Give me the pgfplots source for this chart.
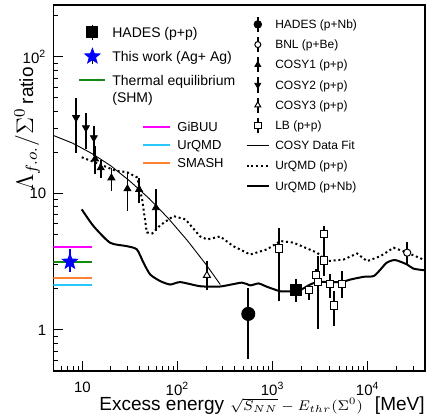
\documentclass[border=0pt]{standalone}
\usepackage{fontspec}
\setmainfont{Liberation Sans}
\usepackage{pgfplots}
\pgfplotsset{compat=1.18}
\usetikzlibrary{plotmarks}

\definecolor{gibuu}{RGB}{255,0,255}
\definecolor{urqmdc}{RGB}{40,200,255}
\definecolor{smash}{RGB}{255,130,50}
\definecolor{shm}{RGB}{20,140,20}

% filled five-pointed star
\pgfdeclareplotmark{fstar}{%
  \pgfpathmoveto{\pgfpointpolar{90}{\pgfplotmarksize}}%
  \pgfpathlineto{\pgfpointpolar{126}{0.42\pgfplotmarksize}}%
  \pgfpathlineto{\pgfpointpolar{162}{\pgfplotmarksize}}%
  \pgfpathlineto{\pgfpointpolar{198}{0.42\pgfplotmarksize}}%
  \pgfpathlineto{\pgfpointpolar{234}{\pgfplotmarksize}}%
  \pgfpathlineto{\pgfpointpolar{270}{0.42\pgfplotmarksize}}%
  \pgfpathlineto{\pgfpointpolar{306}{\pgfplotmarksize}}%
  \pgfpathlineto{\pgfpointpolar{342}{0.42\pgfplotmarksize}}%
  \pgfpathlineto{\pgfpointpolar{18}{\pgfplotmarksize}}%
  \pgfpathlineto{\pgfpointpolar{54}{0.42\pgfplotmarksize}}%
  \pgfpathclose\pgfusepathqfillstroke}

\pgfplotsset{
  errleg/.style={legend image code/.code={
      \draw[black, line width=0.8pt] (#1,-3.8pt) -- (#1,3.8pt);
      \draw[##1, only marks] plot coordinates {(#1,0pt)};}},
  lineleg/.style={legend image code/.code={\draw[##1] (0pt,0pt) -- (#1,0pt);}},
}

\begin{document}
\begin{tikzpicture}
\begin{loglogaxis}[name=main,
  scale only axis, width=185.85pt, height=183pt,
  xmin=4.95, xmax=40000, ymin=0.5, ymax=240,
  axis line style={line width=0.8pt},
  tick align=inside, tick pos=left,
  major tick length=5pt, minor tick length=2.5pt,
  tick style={black, line width=0.5pt},
  xtick={10,100,1000,10000},
  xticklabels={10,10\textsuperscript{2},10\textsuperscript{3},10\textsuperscript{4}},
  minor xtick={6,7,8,9,20,30,40,50,60,70,80,90,200,300,400,500,600,700,800,900,
    2000,3000,4000,5000,6000,7000,8000,9000,20000,30000},
  ytick={1,10,100}, yticklabels={1,10,10\textsuperscript{2}},
  minor ytick={0.6,0.7,0.8,0.9,2,3,4,5,6,7,8,9,20,30,40,50,60,70,80,90,200},
  tick label style={font=\fontsize{7.5}{9}\selectfont},
  xticklabel style={yshift=-2pt},
  xlabel={Excess energy\hspace{3pt}{\fontsize{6.6}{8}\selectfont$\sqrt{S_{NN}}-E_{thr}(\Sigma^{0})$}\hspace{6pt}[MeV]},
  ylabel={{\fontsize{12}{14}\selectfont$\Lambda_{f.o.}/\Sigma^{0}$}\hspace{2pt}ratio},
  xlabel style={at={(axis description cs:1,0)}, anchor=base east, yshift=-19.8pt,
    inner sep=0pt, font=\fontsize{9.5}{11}\selectfont},
  ylabel style={at={(axis description cs:-0.054,0.831)}, anchor=base east,
    inner sep=0pt, font=\fontsize{9.5}{11}\selectfont},
]
% model values for Ag+Ag
\addplot[gibuu, line width=1pt, forget plot] coordinates {(4.9,4.05) (12.6,4.05)};
\addplot[shm, line width=1pt, forget plot] coordinates {(4.9,3.16) (12.6,3.16)};
\addplot[smash, line width=1pt, forget plot] coordinates {(4.9,2.39) (12.6,2.39)};
\addplot[urqmdc, line width=1pt, forget plot] coordinates {(4.9,2.14) (12.6,2.14)};

% COSY data fit
\addplot[black, line width=0.45pt, forget plot] coordinates {
(5.01,26.5) (7.94,23.3) (12.6,19.6) (20.0,15.9) (31.6,12.3) (50.1,9.21)
(79.4,6.61) (126,4.55) (200,3.01) (282,2.15)};

% UrQMD (p+p)
\addplot[black, line width=1pt, dash pattern=on 1pt off 1.4pt, forget plot] coordinates {
(9.86,18.4) (15.4,16.3) (22.1,14.7) (29.5,14.3) (37.7,13.1) (42.5,9.04)
(47.6,5.18) (54.2,5.09) (65.8,5.84) (90.8,6.82) (121,6.46) (173,4.84)
(205,4.6) (281,4.84) (385,4.11) (582,3.57) (873,3.89) (1205,4.48)
(1652,4.36) (2930,3.68) (3740,3.19) (5590,3.28) (7730,3.63) (9860,3.19)
(13600,3.47) (18700,4.0) (25500,3.70) (40400,3.23)};

% UrQMD (p+Nb)
\addplot[black, line width=1pt, smooth, tension=0.4, forget plot] coordinates {
(9.86,7.64) (13.1,5.76) (19.6,4.35) (29.3,4.11) (37.4,3.89) (43.9,3.11)
(51.6,2.55) (65.8,2.28) (83.8,2.15) (107,2.24) (173,2.09) (281,2.08)
(476,2.22) (582,2.12) (712,2.19) (873,2.07) (1205,1.92) (1535,1.92)
(1958,1.96) (2303,2.09) (2930,2.24) (5160,2.24) (6580,2.34) (9080,2.45)
(11560,2.48) (13600,2.77) (15850,3.11) (19400,3.25) (25800,3.02)
(30300,2.81) (40400,2.73)};

% COSY2 (p+p)
\addplot[black, only marks, forget plot, mark=triangle*, mark size=2pt, mark options={rotate=180},
  error bars/.cd, y dir=both, y explicit, error mark=none, error bar style={line width=0.85pt, solid}]
table[x=x, y=y, y error plus=ep, y error minus=em] {
x y ep em
8.59 35.9 14.3 16.0
10.9 30.3 8.7 9.3
13.2 25.6 5.5 6.8
};
% COSY1 (p+p)
\addplot[black, only marks, forget plot, mark=triangle*, mark size=2pt,
  error bars/.cd, y dir=both, y explicit, error mark=none, error bar style={line width=0.85pt, solid}]
table[x=x, y=y, y error plus=ep, y error minus=em] {
x y ep em
13.6 17.9 4.3 4.1
15.6 15.4 2.2 2.4
20.2 13.0 2.4 2.6
29.8 10.8 3.4 3.4
39.5 10.7 2.3 2.15
59.3 7.86 2.84 2.56
};
% COSY3 (p+p)
\addplot[black, only marks, forget plot, mark=triangle*, mark size=2pt, mark options={fill=white, line width=0.5pt},
  error bars/.cd, y dir=both, y explicit, error mark=none, error bar style={line width=0.85pt, solid}]
table[x=x, y=y, y error plus=ep, y error minus=em] {
x y ep em
204 2.51 0.68 0.55
};
% LB (p+p)
\addplot[black, only marks, forget plot, mark=square*, mark size=1.8pt, mark options={fill=white, line width=0.5pt},
  error bars/.cd, y dir=both, y explicit, error mark=none, error bar style={line width=0.85pt, solid}]
table[x=x, y=y, y error plus=ep, y error minus=em] {
x y ep em
1167 3.95 1.65 2.32
3475 5.01 0.74 0.9
3475 3.23 0.9 0.75
2865 2.51 0.27 0.23
2432 1.95 0.20 0.30
3006 2.24 1.23 1.23
4045 2.18 0.37 0.46
4385 1.51 0.41 0.44
5370 2.18 0.53 0.46
};
% BNL (p+Be)
\addplot[black, only marks, forget plot, mark=*, mark size=1.8pt, mark options={fill=white, line width=0.5pt},
  error bars/.cd, y dir=both, y explicit, error mark=none, error bar style={line width=0.85pt, solid}]
table[x=x, y=y, y error plus=ep, y error minus=em] {
x y ep em
26000 3.68 0.72 0.68
};
% HADES (p+Nb)
\addplot[black, only marks, forget plot, mark=*, mark size=3.3pt,
  error bars/.cd, y dir=both, y explicit, error mark=none, error bar style={line width=0.85pt, solid}]
table[x=x, y=y, y error plus=ep, y error minus=em] {
x y ep em
555 1.31 0.73 0.70
};
% HADES (p+p)
\addplot[black, only marks, forget plot, mark=square*, mark size=2.75pt,
  error bars/.cd, y dir=both, y explicit, error mark=none, error bar style={line width=0.85pt, solid}]
table[x=x, y=y, y error plus=ep, y error minus=em] {
x y ep em
1775 1.98 0.40 0.39
};
% this work (Ag+Ag)
\addplot[blue, only marks, forget plot, mark=fstar, mark size=4pt,
  error bars/.cd, y dir=both, y explicit, error mark=none, error bar style={line width=0.85pt, solid}]
table[x=x, y=y, y error plus=ep, y error minus=em] {
x y ep em
7.4 3.16 0.73 0.52
};
\end{loglogaxis}

% legend: HADES p+p, this work, SHM
\begin{loglogaxis}[scale only axis, width=185.85pt, height=183pt,
  xmin=4.95, xmax=40000, ymin=0.5, ymax=240, hide axis,
  legend style={at={(0.0664,0.959)}, anchor=north west, draw=none, fill=none,
    inner sep=0pt, column sep=3pt, row sep=0pt, font=\fontsize{7}{8}\selectfont,
    nodes={inner sep=0pt, text height=8.5pt, text depth=3.5pt}},
  legend cell align=left]
\addlegendimage{errleg=6.5pt, only marks, mark=square*, mark size=2.75pt, black}
\addlegendentry{HADES (p+p)}
\addlegendimage{errleg=6.5pt, only marks, mark=fstar, mark size=4pt, blue}
\addlegendentry{This work (Ag+ Ag)}
\addlegendimage{lineleg=13pt, shm, line width=1pt}
\addlegendentry{Thermal equilibrium}
\addlegendimage{empty legend}
\addlegendentry{\raisebox{3.5pt}{(SHM)}}
\end{loglogaxis}

% legend: transport models
\begin{loglogaxis}[scale only axis, width=185.85pt, height=183pt,
  xmin=4.95, xmax=40000, ymin=0.5, ymax=240, hide axis,
  legend style={at={(0.2378,0.692)}, anchor=north west, draw=none, fill=none,
    inner sep=0pt, column sep=3.35pt, row sep=0pt, font=\fontsize{6.5}{7.5}\selectfont,
    nodes={inner sep=0pt, text height=6.8pt, text depth=2.2pt}},
  legend cell align=left]
\addlegendimage{lineleg=13.3pt, gibuu, line width=1pt}
\addlegendentry{GiBUU}
\addlegendimage{lineleg=13.3pt, urqmdc, line width=1pt}
\addlegendentry{UrQMD}
\addlegendimage{lineleg=13.3pt, smash, line width=1pt}
\addlegendentry{SMASH}
\end{loglogaxis}

% legend: reference data
\begin{loglogaxis}[scale only axis, width=185.85pt, height=183pt,
  xmin=4.95, xmax=40000, ymin=0.5, ymax=240, hide axis,
  legend style={at={(0.516,0.9757)}, anchor=north west, draw=none, fill=none,
    inner sep=0pt, column sep=2.6pt, row sep=0pt, font=\fontsize{6}{7}\selectfont,
    nodes={inner sep=0pt, text height=7.1pt, text depth=3pt}},
  legend cell align=left]
\addlegendimage{errleg=5.65pt, only marks, mark=*, mark size=1.9pt, black}
\addlegendentry{HADES (p+Nb)}
\addlegendimage{errleg=5.65pt, only marks, mark=*, mark size=1.5pt, black, fill=white, line width=0.5pt}
\addlegendentry{BNL (p+Be)}
\addlegendimage{errleg=5.65pt, only marks, mark=triangle*, mark size=1.7pt, black}
\addlegendentry{COSY1 (p+p)}
\addlegendimage{errleg=5.65pt, only marks, mark=triangle*, mark size=1.7pt, black, mark options={rotate=180}}
\addlegendentry{COSY2 (p+p)}
\addlegendimage{errleg=5.65pt, only marks, mark=triangle*, mark size=1.7pt, black, fill=white, line width=0.5pt}
\addlegendentry{COSY3 (p+p)}
\addlegendimage{errleg=5.65pt, only marks, mark=square*, mark size=1.6pt, black, fill=white, line width=0.5pt}
\addlegendentry{LB (p+p)}
\addlegendimage{lineleg=11.3pt, black, line width=0.45pt}
\addlegendentry{COSY Data Fit}
\addlegendimage{lineleg=11.3pt, black, line width=1pt, dash pattern=on 1pt off 1.4pt}
\addlegendentry{UrQMD (p+p)}
\addlegendimage{lineleg=11.3pt, black, line width=1pt}
\addlegendentry{UrQMD (p+Nb)}
\end{loglogaxis}

\pgfresetboundingbox
\path[use as bounding box] ([shift={(-26.65pt,-24pt)}]main.south west)
  rectangle ([shift={(0.5pt,2.5pt)}]main.north east);
\end{tikzpicture}
\end{document}
